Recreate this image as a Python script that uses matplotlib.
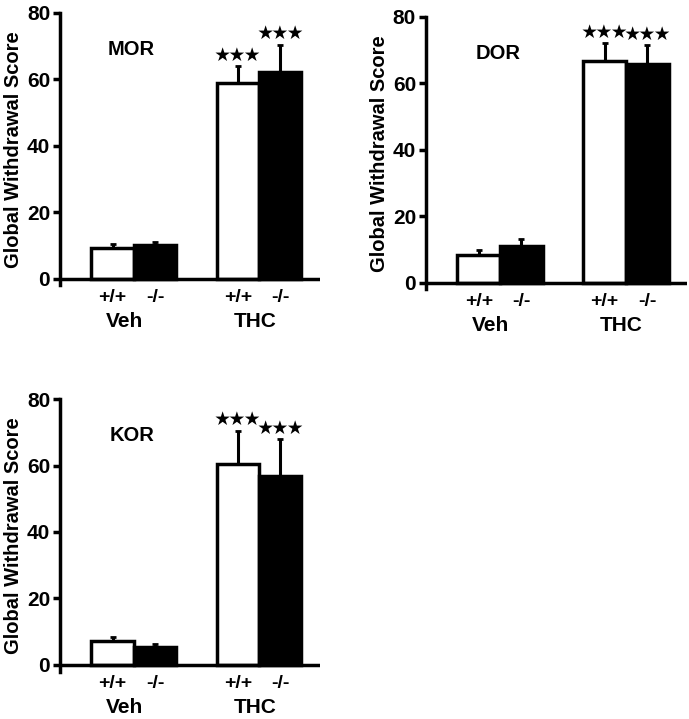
import matplotlib.pyplot as plt

plt.rcParams['font.family'] = ['Liberation Sans', 'DejaVu Sans']
plt.rcParams['font.weight'] = 'bold'

panels = ["MOR", "DOR", "KOR"]
genotypes = ["+/+", "-/-", "+/+", "-/-"]
groups = ["Veh", "THC"]
bar_x = [1.0, 2.0, 3.95, 4.95]
group_x = [1.28, 4.35]
bar_colors = ["white", "black", "white", "black"]

# mean and upper SEM
mor_mean = [9.3, 10.2, 58.9, 62.1]
mor_err = [1.2, 1.0, 5.1, 8.4]
dor_mean = [8.3, 11.1, 66.7, 65.7]
dor_err = [1.5, 2.2, 5.3, 5.8]
kor_mean = [7.2, 5.5, 60.4, 56.9]
kor_err = [1.3, 0.8, 10.1, 11.1]

means = [mor_mean, dor_mean, kor_mean]
errs = [mor_err, dor_err, kor_err]
signif = [2, 3]  # bars with ***

positions = [
    [0.087, 0.603, 0.377, 0.379],
    [0.618, 0.5975, 0.379, 0.379],
    [0.087, 0.066, 0.377, 0.379],
]

fig = plt.figure(figsize=(6.89, 7.19), dpi=100)

for name, m, e, pos in zip(panels, means, errs, positions):
    ax = fig.add_axes(pos)
    ax.bar(bar_x, m, width=1.0, color=bar_colors, edgecolor='black', linewidth=2.5, zorder=2)
    ax.errorbar(bar_x, m, yerr=[[0]*4, e], fmt='none', ecolor='black', elinewidth=2.2,
                capsize=2, capthick=2, zorder=1)
    for i in signif:
        ax.text(bar_x[i], m[i] + e[i] + 1.0, "★★★", ha='center', va='bottom',
                fontsize=11, family=['Noto Sans CJK SC', 'DejaVu Sans'], color='black')
    ax.axhline(0, color='black', lw=2.5, zorder=3)
    ax.set_xlim(-0.24, 5.88)
    ax.set_ylim(-2, 80)
    ax.spines['top'].set_visible(False)
    ax.spines['right'].set_visible(False)
    ax.spines['bottom'].set_visible(False)
    ax.spines['left'].set_linewidth(2.5)
    ax.set_yticks([0, 20, 40, 60, 80])
    ax.tick_params(axis='y', length=5, width=2.5, labelsize=15, pad=2)
    ax.set_xticks([])
    ax.set_ylabel("Global Withdrawal Score", fontsize=14.5, fontweight='bold', labelpad=3)
    ax.text(1.45, 69, name, ha='center', va='center', fontsize=14.5, fontweight='bold')
    for x, g in zip(bar_x, genotypes):
        ax.text(x, -5.6, g, ha='center', va='center', fontsize=14, fontweight='bold')
    for x, g in zip(group_x, groups):
        ax.text(x, -12.8, g, ha='center', va='center', fontsize=15, fontweight='bold')

plt.savefig('out.png', dpi=100)
